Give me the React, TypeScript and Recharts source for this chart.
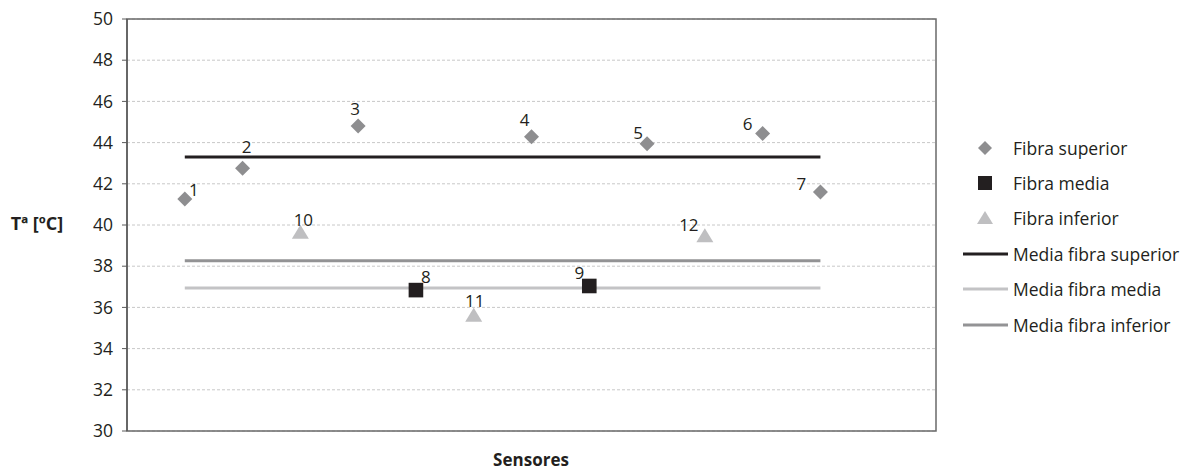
import { ComposedChart, Scatter, XAxis, YAxis, CartesianGrid, ReferenceArea } from "recharts"

const FONT = '"Open Sans", sans-serif'
const TEXT = "#231f20"

const yTicks = [30, 32, 34, 36, 38, 40, 42, 44, 46, 48, 50]

// sensor number, position along the x axis, temperature
const superiorIds = [1, 2, 3, 4, 5, 6, 7]
const superiorPos = [1, 2, 4, 7, 9, 11, 12]
const superiorTemps = [41.26, 42.76, 44.81, 44.29, 43.94, 44.44, 41.6]

const mediaIds = [8, 9]
const mediaPos = [5, 8]
const mediaTemps = [36.84, 37.04]

const inferiorIds = [10, 11, 12]
const inferiorPos = [3, 6, 10]
const inferiorTemps = [39.62, 35.6, 39.45]

const meanSuperior = 43.3
const meanMedia = 36.94
const meanInferior = 38.27
const meanRange = [1, 12]

// where each sensor number sits relative to its marker
const labelOffsets: Record<number, [number, number]> = {
  1: [9, -10], 2: [4, -22], 3: [-3, -17], 4: [-7, -17], 5: [-9, -11], 6: [-15, -10],
  7: [-19, -9], 8: [10, -14], 9: [-10, -13], 10: [3, -13], 11: [1, -15], 12: [-16, -12],
}

const toPoints = (ids: number[], pos: number[], temps: number[]) =>
  ids.map((id, i) => ({ id, x: pos[i], y: temps[i] }))

const meanLine = (v: number) => meanRange.map((x) => ({ x, y: v }))

const COLORS = {
  superior: "#8e8e90",
  media: "#231f20",
  inferior: "#bfbfc1",
  meanSup: "#231f20",
  meanMed: "#c3c3c5",
  meanInf: "#939395",
}

function SensorLabel({ cx, cy, id }: { cx: number; cy: number; id: number }) {
  const [dx, dy] = labelOffsets[id] || [0, -14]
  return (
    <text x={cx + dx} y={cy + dy} textAnchor="middle" dominantBaseline="central"
      fontFamily={FONT} fontSize={17} fill={TEXT}>
      {id}
    </text>
  )
}

function Diamond(props: any) {
  const { cx, cy, payload } = props
  const r = 7.5
  return (
    <g>
      <path d={`M${cx},${cy - r}L${cx + r},${cy}L${cx},${cy + r}L${cx - r},${cy}Z`} fill={COLORS.superior} />
      <SensorLabel cx={cx} cy={cy} id={payload.id} />
    </g>
  )
}

function Square(props: any) {
  const { cx, cy, payload } = props
  const s = 7.3
  return (
    <g>
      <rect x={cx - s} y={cy - s} width={s * 2} height={s * 2} fill={COLORS.media} />
      <SensorLabel cx={cx} cy={cy} id={payload.id} />
    </g>
  )
}

function Triangle(props: any) {
  const { cx, cy, payload } = props
  return (
    <g>
      <path d={`M${cx},${cy - 8}L${cx + 8.5},${cy + 6}L${cx - 8.5},${cy + 6}Z`} fill={COLORS.inferior} />
      <SensorLabel cx={cx} cy={cy} id={payload.id} />
    </g>
  )
}

const noDot = () => <g />

const legendItems = [
  { label: "Fibra superior", kind: "diamond", color: COLORS.superior },
  { label: "Fibra media", kind: "square", color: COLORS.media },
  { label: "Fibra inferior", kind: "triangle", color: COLORS.inferior },
  { label: "Media fibra superior", kind: "line", color: COLORS.meanSup },
  { label: "Media fibra media", kind: "line", color: COLORS.meanMed },
  { label: "Media fibra inferior", kind: "line", color: COLORS.meanInf },
]

function LegendIcon({ kind, color }: { kind: string; color: string }) {
  return (
    <svg width={48} height={20} style={{ display: "block" }}>
      {kind === "diamond" && <path d="M24,3L31,10L24,17L17,10Z" fill={color} />}
      {kind === "square" && <rect x={17} y={3} width={14} height={14} fill={color} />}
      {kind === "triangle" && <path d="M24,3L32,16L16,16Z" fill={color} />}
      {kind === "line" && <rect x={2} y={8.5} width={45} height={3} fill={color} />}
    </svg>
  )
}

export default function App() {
  return (
    <div style={{ position: "absolute", left: 0, top: 0, width: 1183, height: 474, background: "#fff", fontFamily: FONT, color: TEXT }}>
      <ComposedChart width={1183} height={474} margin={{ top: 19, right: 247, bottom: 43, left: 0 }}>
        <CartesianGrid vertical={false} stroke="#c8c8c8" strokeDasharray="3 2" />
        <XAxis type="number" dataKey="x" domain={[0, 14]} tick={false} tickLine={false}
          height={0} axisLine={{ stroke: "#5a5a5a", strokeWidth: 1.5 }} />
        <YAxis type="number" dataKey="y" domain={[30, 50]} ticks={yTicks} width={127}
          tickSize={5} tickMargin={9} axisLine={{ stroke: "#5a5a5a", strokeWidth: 1.5 }}
          tickLine={{ stroke: "#5a5a5a" }}
          tick={{ fontSize: 17.5, fill: TEXT, fontFamily: FONT }} interval={0} />
        <ReferenceArea x1={0} x2={14} y1={30} y2={50} fill="none" stroke="#6a6a6a" strokeWidth={1.5} />
        <Scatter data={meanLine(meanSuperior)} line={{ stroke: COLORS.meanSup, strokeWidth: 3 }} shape={noDot} isAnimationActive={false} />
        <Scatter data={meanLine(meanMedia)} line={{ stroke: COLORS.meanMed, strokeWidth: 3 }} shape={noDot} isAnimationActive={false} />
        <Scatter data={meanLine(meanInferior)} line={{ stroke: COLORS.meanInf, strokeWidth: 3 }} shape={noDot} isAnimationActive={false} />
        <Scatter data={toPoints(superiorIds, superiorPos, superiorTemps)} shape={Diamond} isAnimationActive={false} />
        <Scatter data={toPoints(mediaIds, mediaPos, mediaTemps)} shape={Square} isAnimationActive={false} />
        <Scatter data={toPoints(inferiorIds, inferiorPos, inferiorTemps)} shape={Triangle} isAnimationActive={false} />
      </ComposedChart>

      <div style={{ position: "absolute", left: 0, width: 74, top: 211, textAlign: "center", fontWeight: 700, fontSize: 18 }}>
        Tª [ºC]
      </div>
      <div style={{ position: "absolute", left: 431, width: 200, top: 449, lineHeight: "22px", textAlign: "center", fontWeight: 700, fontSize: 17 }}>
        Sensores
      </div>

      <div style={{ position: "absolute", left: 961, top: 130 }}>
        {legendItems.map((it) => (
          <div key={it.label} style={{ display: "flex", alignItems: "center", height: 35.4, fontSize: 17.5 }}>
            <LegendIcon kind={it.kind} color={it.color} />
            <span style={{ marginLeft: 4, whiteSpace: "nowrap" }}>{it.label}</span>
          </div>
        ))}
      </div>
    </div>
  )
}
